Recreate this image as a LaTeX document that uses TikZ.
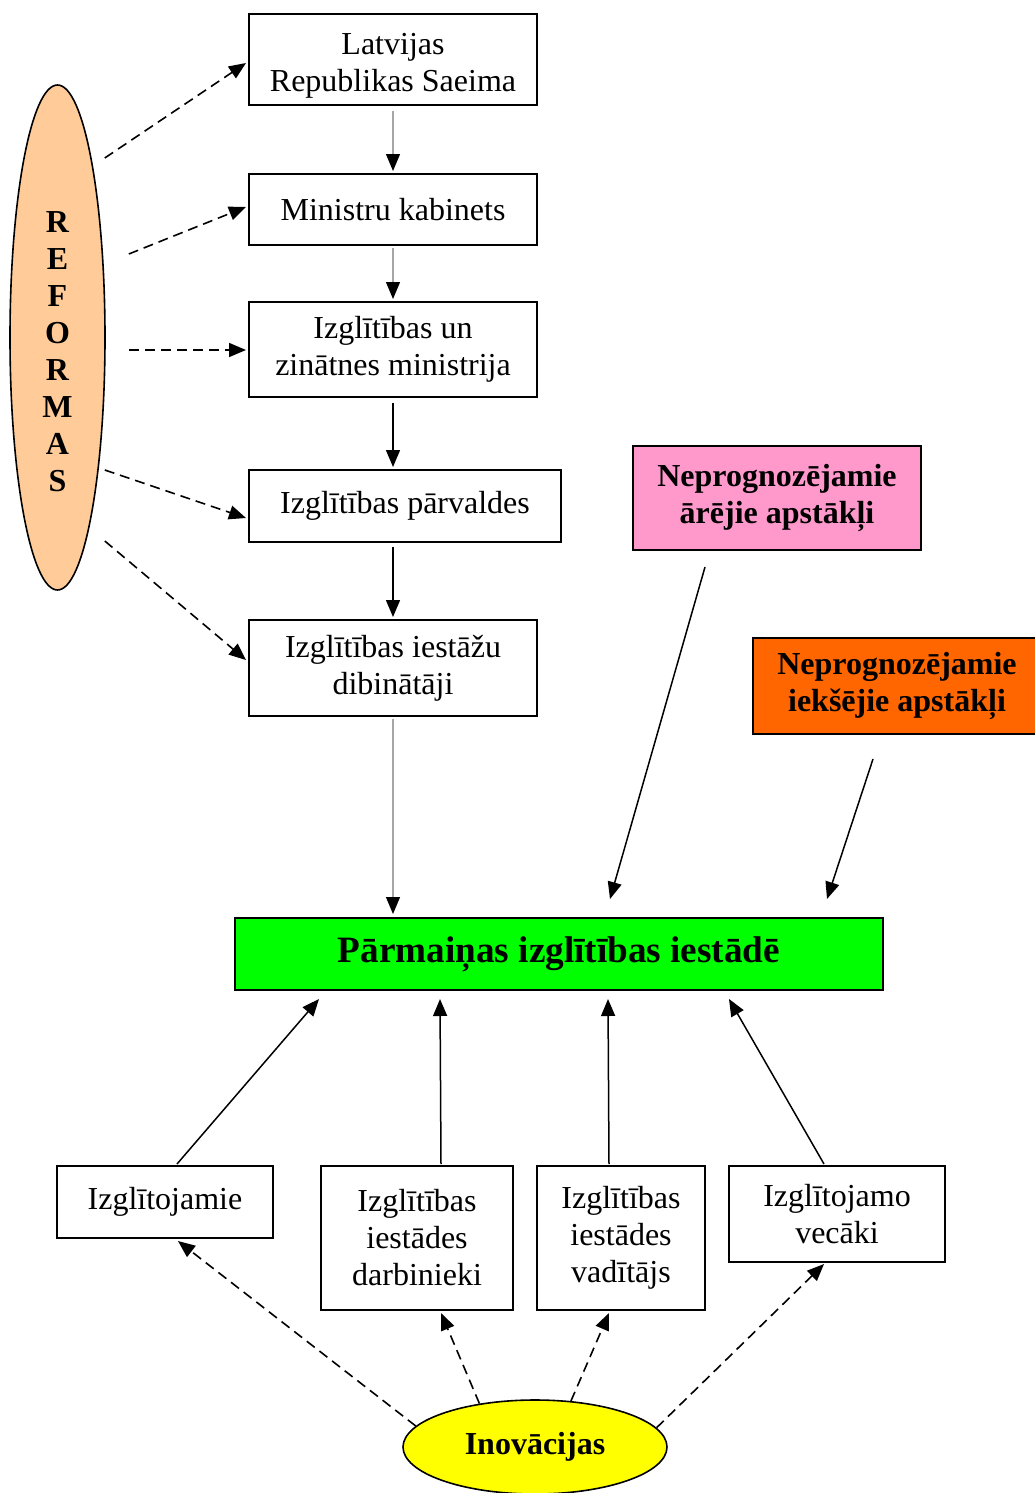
\documentclass[tikz,border=0pt]{standalone}
\usepackage{fontspec}
\setmainfont{Liberation Serif}
\usetikzlibrary{arrows.meta, positioning, calc, shapes.geometric}

\definecolor{peach}{HTML}{FFCC99}
\definecolor{rose}{HTML}{FF99CC}
\definecolor{blaze}{HTML}{FF6600}
\definecolor{lime}{HTML}{00FF00}
\definecolor{sun}{HTML}{FFFF00}

\begin{document}
\begin{tikzpicture}[
        x=0.5pt, y=-0.5pt,
        >={Triangle[length=8.5pt,width=7pt]},
        box/.style={draw, line width=1pt, align=center, inner sep=0pt,
                    font=\fontsize{16}{18.5}\selectfont},
        hot/.style={box, font=\fontsize{16}{18.5}\selectfont\bfseries},
        link/.style={->, line width=0.75pt},
        faint/.style={-{Triangle[length=8.5pt,width=7pt,color=black]},
                      draw=gray!70, line width=0.6pt},
        push/.style={->, line width=0.8pt, dash pattern=on 5pt off 3pt}
    ]
        \useasboundingbox (0,0) rectangle (1034,1493);

        % valsts pārvaldes ķēde
        \node[box, minimum width=144pt, minimum height=45.5pt] (saeima) at (393,59.5) {\rule{0pt}{17pt}Latvijas\\Republikas Saeima};
        \node[box, minimum width=144pt, minimum height=35.5pt] (mk)     at (393,209.5) {Ministru kabinets};
        \node[box, minimum width=144pt, minimum height=47.5pt] (izm)    at (393,349.5) {Izglītības un\\zinātnes ministrija};
        \node[box, minimum width=156pt, minimum height=36pt]   (parv)   at (405,506)   {Izglītības pārvaldes};
        \node[box, minimum width=144pt, minimum height=48pt]   (dib)    at (393,668)   {Izglītības iestāžu\\dibinātāji};

        % reformas
        \node[draw, ellipse, fill=peach, line width=0.8pt, inner sep=0pt,
              minimum width=47.5pt, minimum height=252.5pt] (ref) at (57.5,337.5) {};
        \node[font=\fontsize{16}{18.5}\selectfont\bfseries, align=center] (reftxt) at (57.5,352)
            {R\\E\\F\\O\\R\\M\\A\\S};

        % apstākļi
        \node[hot, fill=rose,  minimum width=144pt, minimum height=52pt] (are)  at (777,498) {Neprognozējamie\\ārējie apstākļi};
        \node[hot, fill=blaze, minimum width=144pt, minimum height=48pt] (ieks) at (897,686) {Neprognozējamie\\iekšējie apstākļi};

        \node[box, fill=lime, minimum width=324pt, minimum height=36pt,
              font=\fontsize{18.6}{21}\selectfont\bfseries] (parm) at (559,954) {Pārmaiņas izglītības iestādē};

        % dalībnieki
        \node[box, minimum width=108pt, minimum height=36pt] (izgl) at (165,1202) {Izglītojamie};
        \node[box, minimum width=96pt,  minimum height=72pt] (darb) at (417,1238) {Izglītības\\iestādes\\darbinieki};
        \node[box, minimum width=84pt,  minimum height=72pt] (vad)  at (621,1238) {Izglītības\\iestādes\\vadītājs};
        \node[box, minimum width=108pt, minimum height=48pt] (vec)  at (837,1214) {Izglītojamo\\vecāki};

        \node[draw, ellipse, fill=sun, line width=0.8pt, inner sep=0pt,
              minimum width=132pt, minimum height=47pt,
              font=\fontsize{16}{18.5}\selectfont\bfseries] (inov) at (535,1447) {Inovācijas};

        % vertikālā ķēde
        \draw[faint] ($(saeima.south)+(0,5)$) -- ($(mk.north)+(0,-2)$);
        \draw[faint] ($(mk.south)+(0,2)$)     -- ($(izm.north)+(0,-2)$);
        \draw[link]  ($(izm.south)+(0,5)$)    -- ($(parv.north)+(-12,-2)$);
        \draw[link]  ($(parv.south)+(-12,4)$) -- ($(dib.north)+(0,-2)$);
        \draw[faint] ($(dib.south)+(0,2)$)    -- ($(parm.north)+(-166,-3)$);

        % reformas
        \draw[push] ($(ref.east)+(-1,-179.5)$) -- ($(saeima.west)+(-2,3.5)$);
        \draw[push] ($(ref.east)+(23,-83.5)$)  -- ($(mk.west)+(-2,-2.5)$);
        \draw[push] ($(ref.east)+(23,12.5)$)   -- ($(izm.west)+(-2,0.5)$);
        \draw[push] ($(ref.east)+(-1,132.5)$)  -- ($(parv.west)+(-2,12)$);
        \draw[push] ($(ref.east)+(-1,203.5)$)  -- ($(dib.west)+(-2,-8)$);

        % apstākļi
        \draw[link] ($(are.south)+(-72,16)$) -- ($(parm.north)+(51,-18)$);
        \draw[link] ($(ieks.south)+(-24,24)$) -- ($(parm.north)+(268,-18)$);

        % dalībnieki
        \draw[link] ($(izgl.north)+(12,-1)$) -- ($(parm.south west)+(85,8)$);
        \draw[link] ($(darb.north)+(24,-1)$) -- ($(parm.south west)+(206,8)$);
        \draw[link] ($(vad.north)+(-12,-1)$) -- ($(parm.south west)+(374,8)$);
        \draw[link] ($(vec.north)+(-13,-1)$) -- ($(parm.south west)+(495,8)$);

        % inovācijas
        \draw[push] (inov.170) -- ($(izgl.south)+(13,2)$);
        \draw[push] (inov.142) -- ($(darb.south)+(24,2)$);
        \draw[push] (inov.52)  -- ($(vad.south)+(-12,2)$);
        \draw[push] (inov.9)   -- ($(vec.south)+(-13,1)$);
    \end{tikzpicture}
\end{document}
